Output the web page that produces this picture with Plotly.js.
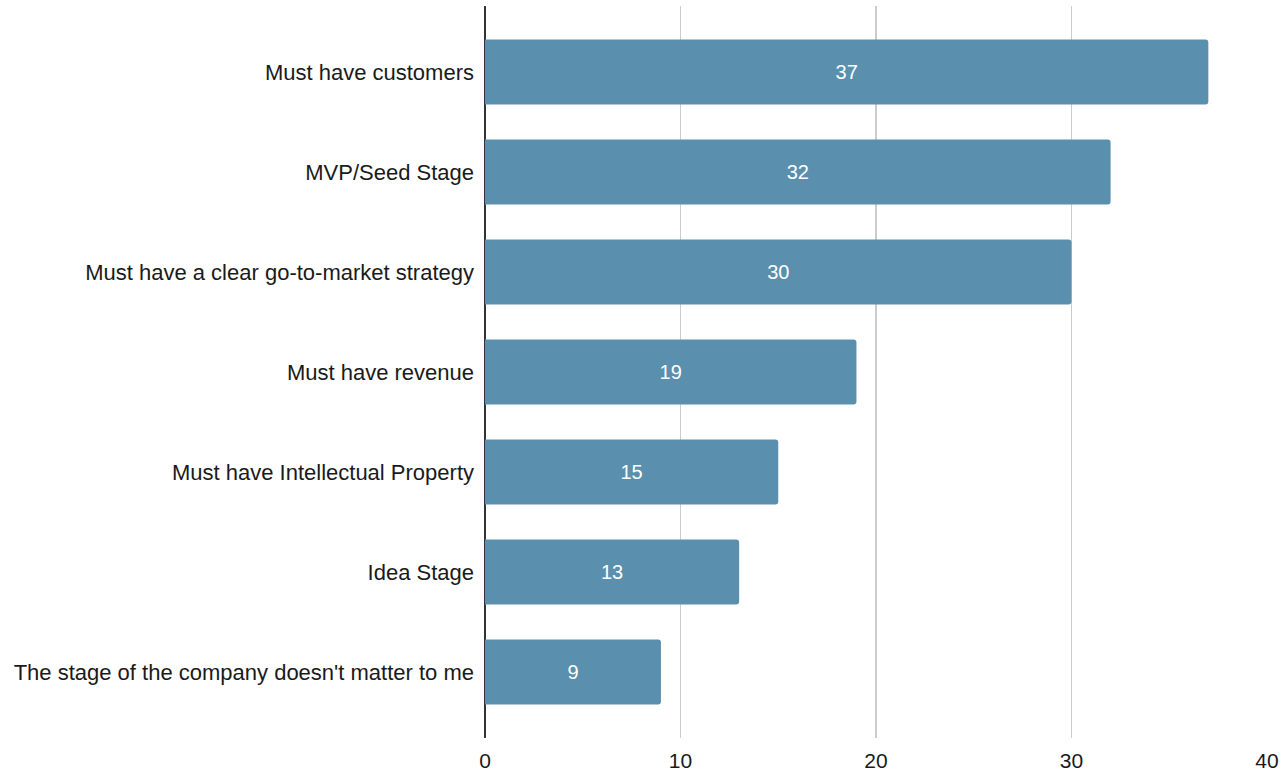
<!DOCTYPE html>
<html>
<head>
<meta charset="utf-8">
<script src="https://cdn.plot.ly/plotly-3.0.1.min.js"></script>
<style>html,body{margin:0;padding:0;background:#fff;}#chart{width:1286px;height:773px;}</style>
</head>
<body>
<div id="chart"></div>
<script>
const categories = [
  "Must have customers",
  "MVP/Seed Stage",
  "Must have a clear go-to-market strategy",
  "Must have revenue",
  "Must have Intellectual Property",
  "Idea Stage",
  "The stage of the company doesn't matter to me"
];
const values = [37, 32, 30, 19, 15, 13, 9];
const xTicks = [0, 10, 20, 30, 40];

const FONT = '"Liberation Sans", Arial, sans-serif';

const trace = {
  type: 'bar',
  orientation: 'h',
  y: categories,
  x: values,
  text: values.map(String),
  textposition: 'inside',
  insidetextanchor: 'middle',
  textfont: {color: '#ffffff', size: 20, family: FONT},
  marker: {color: '#5a90ae', cornerradius: 3},
  width: 0.65,
  hoverinfo: 'none'
};

const layout = {
  width: 1286, height: 773,
  margin: {l: 485, r: 19, t: 6, b: 35},
  paper_bgcolor: '#ffffff', plot_bgcolor: '#ffffff',
  showlegend: false,
  font: {family: FONT, size: 20, color: '#1a1a1a'},
  xaxis: {
    range: [0, 40], tickvals: xTicks, ticktext: xTicks.map(String),
    showgrid: true, gridcolor: '#cccccc', gridwidth: 1.5,
    zeroline: true, zerolinecolor: '#333333', zerolinewidth: 1.5,
    showline: false, ticks: '', fixedrange: true,
    ticklabelstandoff: 8,
    tickfont: {size: 21, color: '#1a1a1a'}
  },
  yaxis: {
    type: 'category', categoryorder: 'array', categoryarray: categories,
    autorange: false, range: [6.66, -0.66],
    showgrid: false, zeroline: false, showline: false, ticks: '',
    ticklabelstandoff: 10,
    tickfont: {size: 22, color: '#1a1a1a'}
  }
};

Plotly.newPlot('chart', [trace], layout, {displayModeBar: false, staticPlot: true});
</script>
</body>
</html>
